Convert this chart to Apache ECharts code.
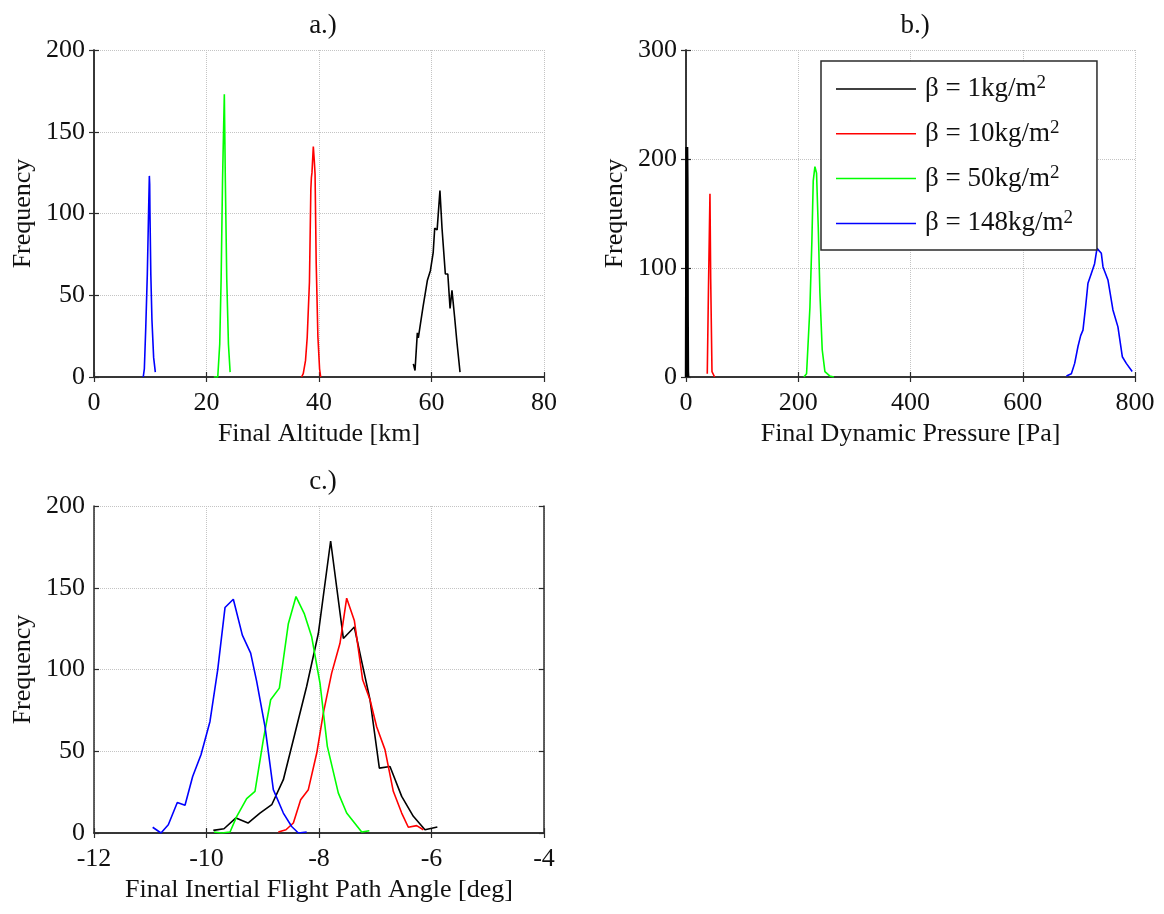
<!DOCTYPE html>
<html>
<head>
<meta charset="utf-8">
<script src="https://cdn.jsdelivr.net/npm/echarts@6/dist/echarts.min.js"></script>
<style>html,body{margin:0;padding:0;background:#fff}#c{width:1164px;height:914px}</style>
</head>
<body>
<div id="c"></div>
<script>
// ---------- Data ----------
const seriesNames = ['β = 1kg/m2', 'β = 10kg/m2', 'β = 50kg/m2', 'β = 148kg/m2'];
const legendLabels = ['β = 1kg/m', 'β = 10kg/m', 'β = 50kg/m', 'β = 148kg/m'];
const titles = ['a.)', 'b.)', 'c.)'];
const xNames = ['Final Altitude [km]', 'Final Dynamic Pressure [Pa]', 'Final Inertial Flight Path Angle [deg]'];
const yName = 'Frequency';
const xRanges = [[0, 80, 20], [0, 800, 200], [-12, -4, 2]];
const yRanges = [[0, 200, 50], [0, 300, 100], [0, 200, 50]];

// a.) Final Altitude [km]
const alt_b1 = [[56.77,8],[57.07,4],[57.48,27],[57.66,24],[58.1,34],[58.5,43],[59.26,59],[59.8,65],[60.3,76],[60.57,91],[61.0,90],[61.5,114],[61.87,91],[62.46,63],[62.9,63],[63.3,42],[63.64,53],[64.1,37],[64.5,22],[65.07,3]];
const alt_b10 = [[36.9,0],[37.2,2],[37.6,10],[37.9,24],[38.3,58],[38.55,115],[38.65,122],[38.75,125],[38.99,141],[39.15,133],[39.3,124],[39.5,70],[39.8,25],[40.1,5],[40.3,0]];
const alt_b50 = [[21.3,0],[22.0,0],[22.35,20],[22.6,60],[22.85,120],[22.95,137],[23.17,173],[23.35,120],[23.6,60],[23.9,20],[24.2,3]];
const alt_b148 = [[8.75,0],[8.95,5],[9.2,30],[9.48,63],[9.72,104],[9.84,123],[9.9,118],[9.95,100],[10.1,63],[10.3,35],[10.6,12],[10.9,3]];

// b.) Final Dynamic Pressure [Pa]
const q_b1 = [[0.5,0],[1,110],[1.5,211],[2,180],[2.5,60],[3,5],[3.5,0]];
const q_b10 = [[37.9,3],[40,80],[42.7,168],[44,90],[46.3,5],[51,0]];
const q_b50 = [[210,0],[214.8,3],[220.8,64],[224.3,125],[226.7,180],[229.7,193],[232.6,187],[235.6,138],[238.6,77],[242.7,25],[247.5,5],[256,1],[263.5,0]];
const q_b148 = [[677.8,1],[686.6,3],[692.5,12.5],[698.4,28],[703.2,38],[707.3,43],[712,64.5],[716.2,86],[722.2,95],[728,104],[732.3,118],[735.8,119],[740,113.5],[743,101],[751.8,89],[760.7,61.5],[769.6,46],[777.4,18.6],[784.5,12.5],[795,5]];

// c.) Final Inertial Flight Path Angle [deg]
const fpa_b1 = [[-9.879,1.6],[-9.689,2.6],[-9.476,9.2],[-9.262,6.1],[-9.05,12.2],[-8.84,17.3],[-8.634,32.6],[-8.427,61],[-8.22,89.6],[-8.012,122],[-7.793,178.6],[-7.567,119],[-7.372,126],[-7.241,105],[-7.093,81.5],[-6.927,39.7],[-6.738,40.7],[-6.53,22.4],[-6.323,10.2],[-6.116,2],[-5.896,3.7]];
const fpa_b10 = [[-8.723,0.6],[-8.587,2],[-8.456,6.1],[-8.326,20.4],[-8.19,26.5],[-8.04,48.9],[-7.923,73.3],[-7.775,97.8],[-7.627,116],[-7.508,143.6],[-7.372,130],[-7.224,93.7],[-7.093,81.5],[-6.975,65],[-6.827,51],[-6.679,25.5],[-6.53,12.2],[-6.412,3.5],[-6.264,4.5],[-6.145,2]];
const fpa_b50 = [[-9.867,0.6],[-9.73,0],[-9.582,0.6],[-9.464,10],[-9.286,21],[-9.138,25.5],[-8.99,57],[-8.859,81.5],[-8.705,88.6],[-8.545,128],[-8.409,144.6],[-8.26,134],[-8.13,120],[-7.982,91.6],[-7.852,53],[-7.656,24.4],[-7.508,12.2],[-7.241,0.6],[-7.105,1.4]];
const fpa_b148 = [[-10.957,3.5],[-10.809,0],[-10.679,5],[-10.519,18.7],[-10.382,17],[-10.246,34.6],[-10.098,47.9],[-9.938,68.2],[-9.801,99.8],[-9.671,137.9],[-9.523,143],[-9.363,121],[-9.215,110],[-9.108,92.7],[-8.96,65],[-8.812,26.5],[-8.634,12.2],[-8.486,4],[-8.367,0],[-8.219,0.6]];

const panelData = [
  [alt_b1, alt_b10, alt_b50, alt_b148],
  [q_b1, q_b10, q_b50, q_b148],
  [fpa_b1, fpa_b10, fpa_b50, fpa_b148]
];
const colors = ['#000000', '#ff0000', '#00ff00', '#0000ff'];

// ---------- Layout ----------
const FONT = "'Liberation Serif', 'Times New Roman', serif";
const FS = 26;
const grids = [
  {left: 94, top: 50, width: 450, height: 327},
  {left: 686, top: 50, width: 449, height: 327},
  {left: 94, top: 506, width: 450, height: 327}
];
const titlePos = [[318, 7], [910, 7], [318, 463]];
const AXC = '#2b2b2b';

const option = {
  backgroundColor: '#fff',
  animation: false,
  textStyle: {fontFamily: FONT},
  title: titles.map((t, i) => ({
    text: t, left: titlePos[i][0], top: titlePos[i][1], textAlign: 'center',
    textStyle: {fontFamily: FONT, fontSize: 27, fontWeight: 'normal', color: '#111'}
  })),
  grid: grids.map(g => Object.assign({containLabel: false, show: false}, g)),
  xAxis: [],
  yAxis: [],
  series: [],
  legend: {
    left: 821, top: 61,
    orient: 'vertical',
    data: seriesNames,
    icon: 'rect',
    itemWidth: 80, itemHeight: 1.5, itemGap: 16.3,
    padding: [13, 24, 13, 15],
    borderColor: AXC, borderWidth: 1.5,
    backgroundColor: '#fff',
    formatter: name => '{b|' + legendLabels[seriesNames.indexOf(name)] + '}{s|2}',
    textStyle: {
      fontFamily: FONT, color: '#111', padding: [0, 0, 0, 4],
      rich: {
        b: {fontFamily: FONT, fontSize: 27, color: '#111', lineHeight: 30},
        s: {fontFamily: FONT, fontSize: 19, color: '#111', verticalAlign: 'top', lineHeight: 12}
      }
    }
  }
};

for (let i = 0; i < 3; i++) {
  const [xmin, xmax, xint] = xRanges[i];
  const [ymin, ymax, yint] = yRanges[i];
  const common = {
    axisLine: {show: true, lineStyle: {color: AXC, width: 1.5}},
    axisTick: {show: true, inside: true, length: 5, lineStyle: {color: AXC, width: 1.2}},
  };
  const split = {show: true, lineStyle: {color: '#c4c4c4', type: 'dotted', width: 1}};
  option.xAxis.push(Object.assign({
    type: 'value', gridIndex: i, min: xmin, max: xmax, interval: xint, position: 'bottom',
    name: xNames[i], nameLocation: 'middle', nameGap: 44,
    nameTextStyle: {fontFamily: FONT, fontSize: FS, color: '#111'},
    axisLabel: {fontFamily: FONT, fontSize: FS, color: '#111', margin: 13},
    splitLine: split
  }, common));
  option.xAxis.push(Object.assign({
    type: 'value', gridIndex: i, min: xmin, max: xmax, interval: xint, position: 'top',
    axisLabel: {show: false}, splitLine: {show: false}
  }, common));
  option.yAxis.push(Object.assign({
    type: 'value', gridIndex: i, min: ymin, max: ymax, interval: yint, position: 'left',
    name: yName, nameLocation: 'middle', nameGap: 58,
    nameTextStyle: {fontFamily: FONT, fontSize: FS, color: '#111'},
    axisLabel: {fontFamily: FONT, fontSize: FS, color: '#111', margin: 9},
    splitLine: split
  }, common));
  option.yAxis.push(Object.assign({
    type: 'value', gridIndex: i, min: ymin, max: ymax, interval: yint, position: 'right',
    axisLabel: {show: false}, splitLine: {show: false}
  }, common));
  for (let s = 0; s < 4; s++) {
    option.series.push({
      type: 'line', name: seriesNames[s],
      xAxisIndex: i * 2, yAxisIndex: i * 2,
      data: panelData[i][s],
      symbol: 'none', clip: true,
      lineStyle: {color: colors[s], width: (i === 1 && s === 0) ? 3 : 1.6},
      itemStyle: {color: colors[s]},
      z: 3
    });
  }
}

const chart = echarts.init(document.getElementById('c'), null, {renderer: 'canvas'});
chart.setOption(option);
</script>
</body>
</html>
